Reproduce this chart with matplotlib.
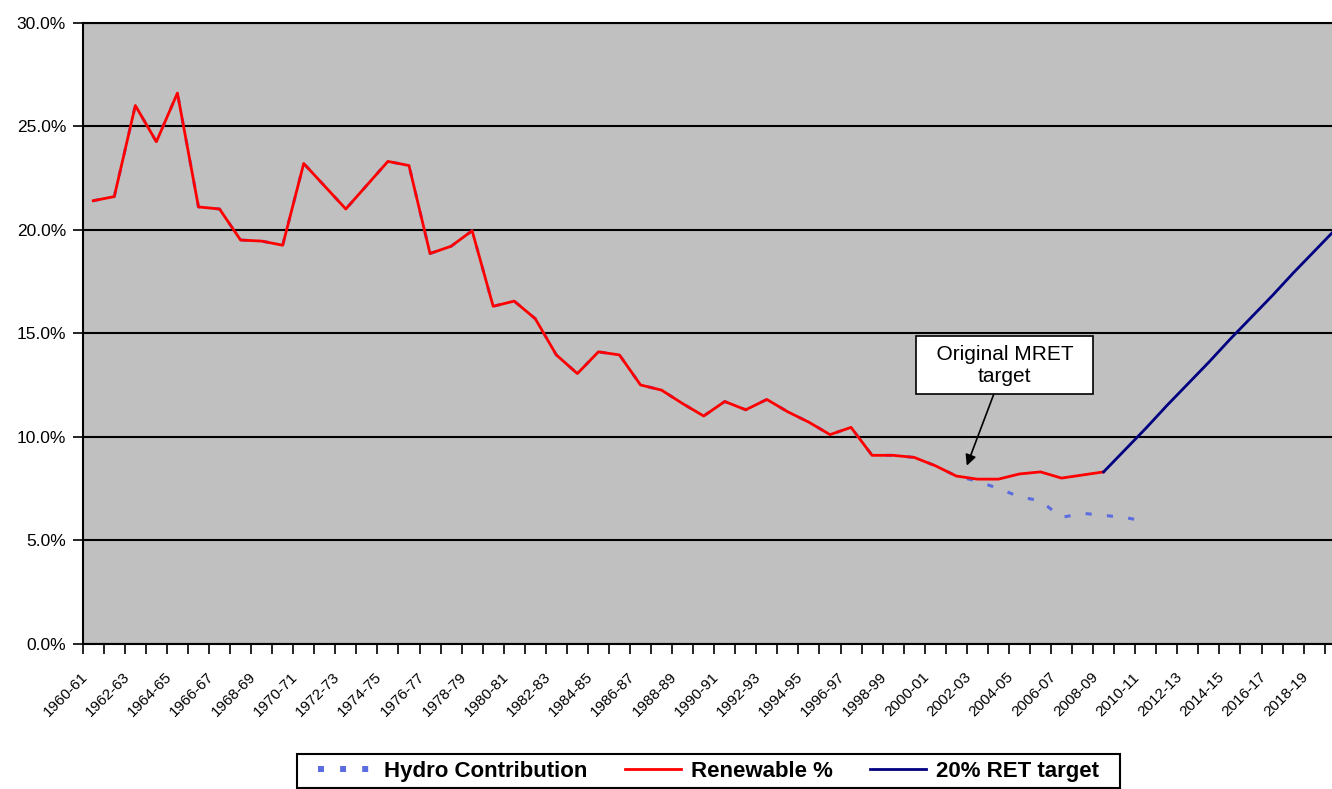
import numpy as np
import matplotlib
matplotlib.use('Agg')
import matplotlib.pyplot as plt
from matplotlib.lines import Line2D
from matplotlib.patches import Rectangle
from matplotlib.transforms import ScaledTranslation

plt.rcParams['font.family'] = ['Liberation Sans', 'DejaVu Sans']

# financial years 1960-61 .. 2019-20
years = [f"{y}-{(y + 1) % 100:02d}" for y in range(1960, 2020)]

renewable = [21.4, 21.6, 26.0, 24.25, 26.6, 21.1, 21.0, 19.5, 19.45, 19.25,
             23.2, 22.1, 21.0, 22.15, 23.3, 23.1, 18.85, 19.2, 19.95, 16.3,
             16.55, 15.7, 13.95, 13.05, 14.1, 13.95, 12.5, 12.25, 11.6, 11.0,
             11.7, 11.3, 11.8, 11.2, 10.7, 10.1, 10.45, 9.1, 9.1, 9.0,
             8.6, 8.1, 7.95, 7.95, 8.2, 8.3, 8.0, 8.15, 8.3]

hydro = renewable[:42] + [7.85, 7.5, 7.1, 6.9, 6.1, 6.3, 6.2, 6.1, 5.9]

target_start = 48  # 2008-09
target = [8.3, 9.35, 10.4, 11.5, 12.55, 13.6, 14.7, 15.75, 16.8, 17.9, 18.95, 20.0]

hydro_col = '#5a6ce0'
red_col = '#ff0000'
navy_col = '#000080'

fig = plt.figure(figsize=(13.32, 7.89), dpi=100)
ax = fig.add_axes([82.7 / 1332, 1 - 643.7 / 789, 60 * 21.05 / 1332, (643.7 - 22.7) / 789])
ax.set_facecolor('#c0c0c0')

# ------- lines -------
ax.plot(range(len(hydro)), hydro, color=hydro_col, lw=2.2, dashes=(2.0, 5.0),
        dash_capstyle='butt', zorder=3)
ax.plot(range(len(renewable)), renewable, color=red_col, lw=2.0, zorder=4)
ax.plot(range(target_start, target_start + len(target)), target, color=navy_col, lw=2.0, zorder=4)

# ------- axes -------
ax.set_xlim(-0.5, len(years) - 0.5)
ax.set_ylim(0, 30)
ax.set_yticks(np.arange(0, 31, 5))
ax.set_yticklabels([f"{v:.1f}%" for v in np.arange(0, 31, 5)], fontsize=12.5)
ax.tick_params(axis='y', direction='out', length=7, width=1.2, pad=5, color='black')
ax.yaxis.grid(True, color='black', lw=1.5)
ax.set_axisbelow(True)

ax.set_xticks(np.arange(-0.5, len(years), 1))
ax.set_xticklabels([])
ax.tick_params(axis='x', which='major', direction='out', length=7, width=1.2)
ax.set_xticks(np.arange(0, len(years), 2), minor=True)
ax.set_xticklabels(years[::2], minor=True, rotation=45, ha='right',
                   rotation_mode='anchor', fontsize=11)
ax.tick_params(axis='x', which='minor', length=0, pad=19)
offset = ScaledTranslation(-13 / 100, 0, fig.dpi_scale_trans)
for lab in ax.get_xticklabels(minor=True):
    lab.set_transform(lab.get_transform() + offset)

for s in ['left', 'bottom', 'top']:
    ax.spines[s].set_color('black')
    ax.spines[s].set_linewidth(1.5)
ax.spines['right'].set_visible(False)

# ------- annotation -------
ax.annotate("  Original MRET  \ntarget", xy=(41.5, 8.6), xytext=(43.3, 13.45),
            ha='center', va='center', fontsize=15, linespacing=1.2,
            bbox=dict(boxstyle='square,pad=0.4', fc='white', ec='black', lw=1.2),
            arrowprops=dict(arrowstyle='-|>', color='black', lw=1.2, shrinkA=0, shrinkB=0,
                            mutation_scale=16),
            zorder=6)

# ------- legend -------
handles = [Line2D([], [], color=hydro_col, lw=4.3, dashes=(1.0, 2.7), dash_capstyle='butt'),
           Line2D([], [], color=red_col, lw=2.0),
           Line2D([], [], color=navy_col, lw=2.0)]
labels = ['Hydro Contribution', 'Renewable %', '20% RET target']
fig.legend(handles, labels, loc='center', bbox_to_anchor=(0.532, 0.0228), ncol=3,
           frameon=False, prop={'weight': 'bold', 'size': 16}, handlelength=2.5,
           columnspacing=1.7, handletextpad=0.45, borderpad=0.2, borderaxespad=0)
fig.patches.append(Rectangle((297 / 1332, 1 - 788 / 789), 823 / 1332, 34 / 789,
                             transform=fig.transFigure, fill=False, ec='black', lw=1.5))

fig.savefig('out.png', dpi=100)
